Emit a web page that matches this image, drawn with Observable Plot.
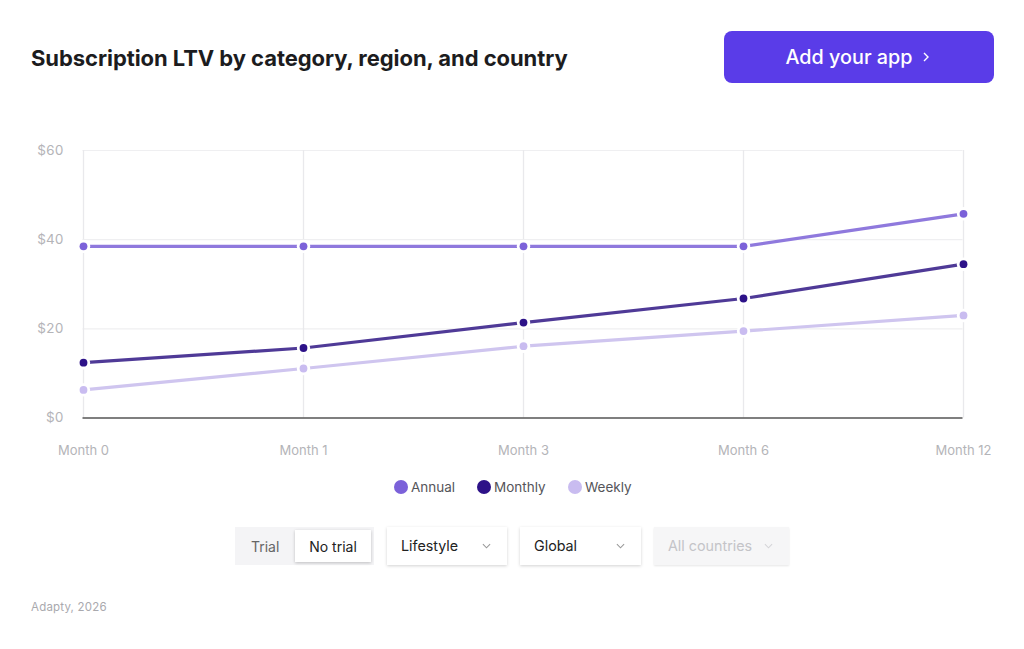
<!DOCTYPE html>
<html><head><meta charset="utf-8">
<script src="https://cdn.jsdelivr.net/npm/d3@7"></script>
<script src="https://cdn.jsdelivr.net/npm/@observablehq/plot@0.6"></script>
<style>
html,body{margin:0;padding:0;background:#fff;width:1024px;height:649px;overflow:hidden;font-family:Inter,"Noto Sans",sans-serif}
#chart{position:absolute;left:0;top:0}
.abs{position:absolute;box-sizing:border-box}
#title{left:31px;top:44px;font-size:22px;font-weight:700;color:#1c1c1e;line-height:28px;letter-spacing:-.06px;white-space:nowrap}
#btn{left:724px;top:31px;width:270px;height:52px;background:#5a3ce8;border-radius:8px;color:#fff;font-size:19.8px;font-weight:500;display:flex;align-items:center;justify-content:center;gap:9px;padding-right:3px}
#legend{left:0;top:478px;width:1024px;height:18px;font-size:13.5px;color:#55555a}
.li{position:absolute;top:0;display:flex;align-items:center;height:18px;gap:3px;white-space:nowrap}
.sw{width:14px;height:14px;border-radius:50%;display:inline-block}
.ctl{top:527px;height:38px;background:#fff;box-shadow:0 1px 3px rgba(0,0,0,.18);font-size:14.3px;color:#222;display:flex;align-items:center;justify-content:space-between;padding:0 16px 0 14px}
.ctl span{position:relative;top:-.5px}
.ctl svg{flex:none}
#seg{left:235px;top:527px;width:139px;height:38px;background:#f4f4f6;font-size:14px}
#seg .t{position:absolute;left:16px;top:10.5px;color:#666;line-height:18px}
#seg .n{position:absolute;left:60px;top:3px;width:76px;height:32px;background:#fff;box-shadow:0 1px 3px rgba(0,0,0,.22);display:flex;align-items:center;justify-content:center;color:#222}
#cap{left:31px;top:600px;font-size:11.5px;color:#a9a9ae;line-height:14px;letter-spacing:.2px}
</style></head><body>
<div id="chart"></div>
<div id="title" class="abs">Subscription LTV by category, region, and country</div>
<div id="btn" class="abs"><span>Add your app</span><svg width="8" height="12" viewBox="0 0 8 12"><path d="M2 2l4 4-4 4" fill="none" stroke="#fff" stroke-width="1.4"/></svg></div>
<div id="legend" class="abs"></div>
<div id="seg" class="abs"><span class="t">Trial</span><span class="n">No trial</span></div>
<div class="abs ctl" style="left:387px;width:120px"><span>Lifestyle</span><svg width="9" height="6" viewBox="0 0 10 6"><path d="M1 1l4 4 4-4" fill="none" stroke="#999" stroke-width="1.2"/></svg></div>
<div class="abs ctl" style="left:520px;width:121px"><span>Global</span><svg width="9" height="6" viewBox="0 0 10 6"><path d="M1 1l4 4 4-4" fill="none" stroke="#999" stroke-width="1.2"/></svg></div>
<div class="abs ctl" style="left:654px;width:135px;background:#f6f6f7;color:#c4c4c8;box-shadow:0 1px 2px rgba(0,0,0,.1)"><span>All countries</span><svg width="9" height="6" viewBox="0 0 10 6"><path d="M1 1l4 4 4-4" fill="none" stroke="#d5d5d8" stroke-width="1.2"/></svg></div>
<div id="cap" class="abs">Adapty, 2026</div>
<script>
const months = ["Month 0","Month 1","Month 3","Month 6","Month 12"];
const annual = [38.5,38.5,38.5,38.5,45.8];
const monthly = [12.4,15.7,21.4,26.8,34.5];
const weekly = [6.3,11.1,16.1,19.5,23.0];
const seriesNames = ["Annual","Monthly","Weekly"];
const dotColors = ["#7b61d9","#2d1288","#c9bcf0"];
const lineColors = ["#8f79dd","#4f3a97","#cfc5ef"];
const legendX = [394,477,568];
const yTicks = [0,20,40,60];

const table = [];
[annual,monthly,weekly].forEach((vals,s)=>vals.forEach((v,i)=>table.push({month:months[i],value:v,series:seriesNames[s]})));

const plot = Plot.plot({
  width:1024,height:470,
  marginLeft:82.5,marginRight:61.5,marginTop:150,marginBottom:52.5,
  style:{background:"transparent",fontFamily:"Inter, sans-serif",fontSize:"13px"},
  x:{type:"point",domain:months,padding:0},
  y:{domain:[0,60],ticks:yTicks},
  color:{domain:seriesNames,range:dotColors},
  marks:[
    Plot.ruleY(yTicks.slice(1),{stroke:"#efeff1",strokeWidth:1.2}),
    Plot.ruleX(months,{x:d=>d,stroke:"#e9e9ec",strokeWidth:1.3}),
    Plot.ruleY([0],{stroke:"#555",strokeWidth:1.3}),
    Plot.axisY({ticks:yTicks,tickSize:0,tickPadding:19.5,tickFormat:d=>"$"+d,fill:"#b4b4b8",fontSize:13.5,label:null}),
    Plot.axisX({tickSize:0,tickPadding:28,fill:"#b4b4b8",fontSize:13,label:null}),
    ...seriesNames.map((n,i)=>Plot.line(table.filter(d=>d.series===n),{x:"month",y:"value",stroke:lineColors[i],strokeWidth:3.2})),
    Plot.dot(table,{x:"month",y:"value",r:6.7,fill:"#fff"}),
    Plot.dot(table,{x:"month",y:"value",r:3.9,fill:"series"})
  ]
});
document.getElementById("chart").append(plot);

const lg=document.getElementById("legend");
seriesNames.forEach((n,i)=>{
  const el=document.createElement("div");el.className="li";el.style.left=legendX[i]+"px";
  const sw=document.createElement("span");sw.className="sw";sw.style.background=dotColors[i];
  const t=document.createElement("span");t.textContent=n;
  el.append(sw,t);lg.append(el);
});
</script>
</body></html>
